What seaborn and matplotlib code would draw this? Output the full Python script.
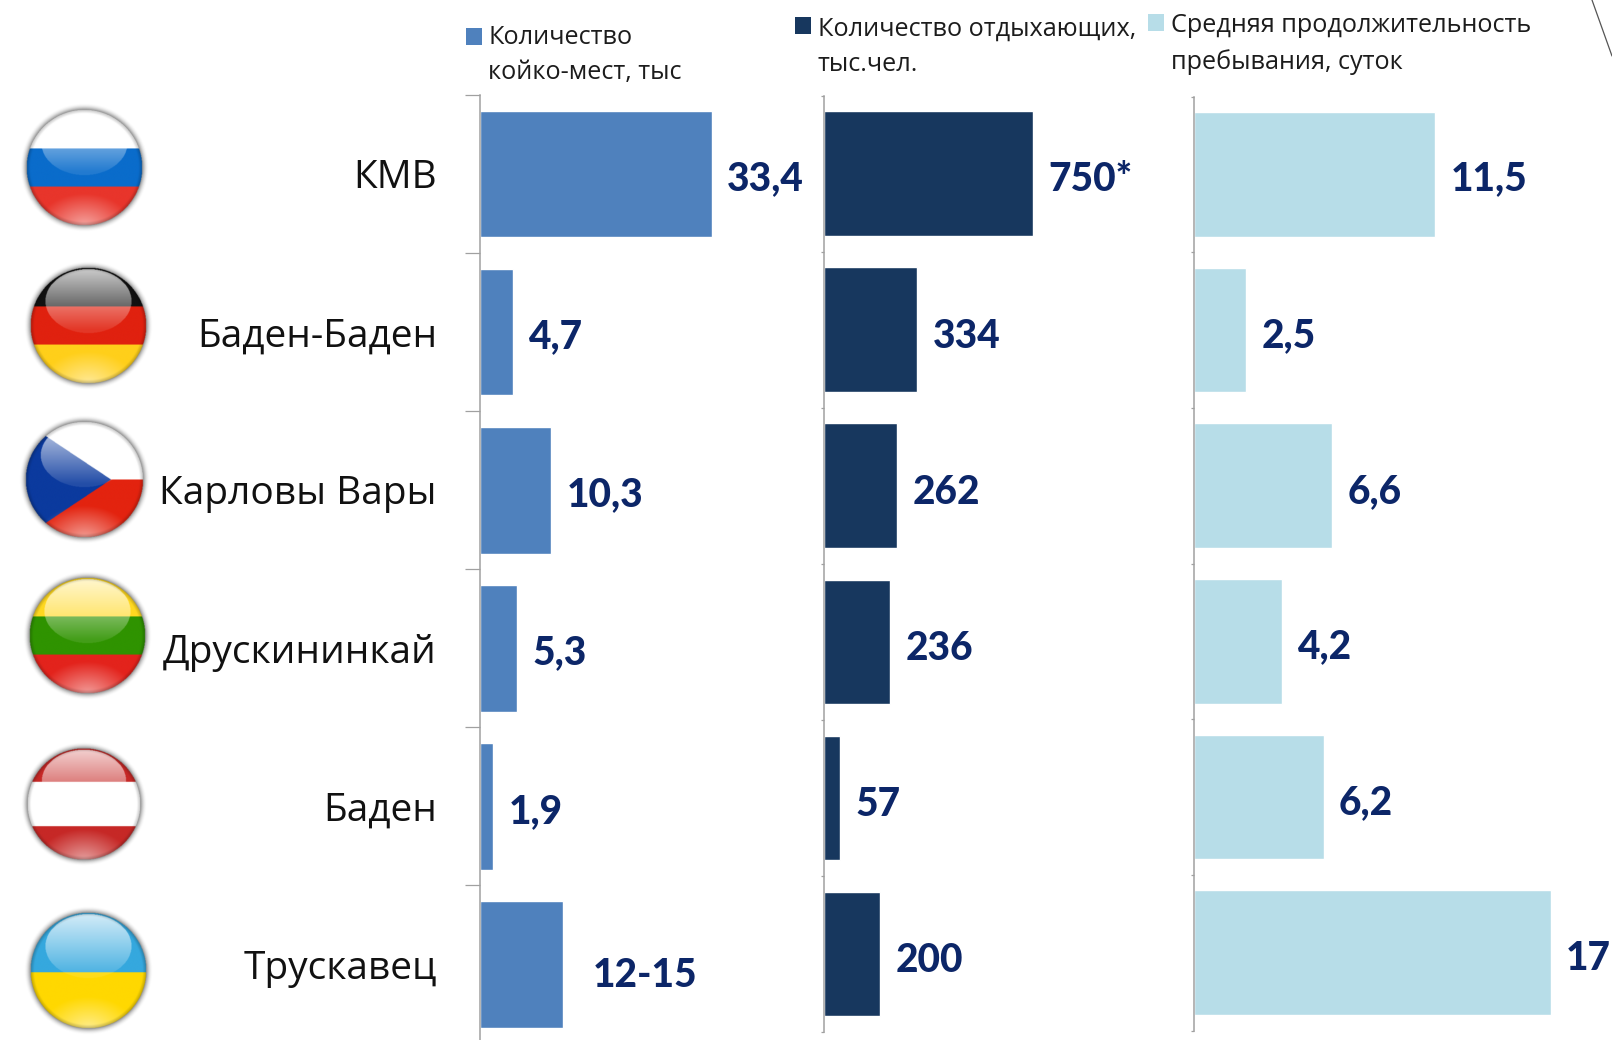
"""
Resort comparison: beds, visitors and length of stay, one bar panel per metric.
"""

import matplotlib
matplotlib.use("Agg")

import matplotlib.pyplot as plt
import numpy as np
import seaborn as sns
from matplotlib.patches import Rectangle

W, H = 1612, 1040

RESORTS = ["КМВ", "Баден-Баден", "Карловы Вары", "Друскининкай", "Баден", "Трускавец"]

BEDS = [33.4, 4.7, 10.3, 5.3, 1.9, 12.0]
BEDS_LABELS = ["33,4", "4,7", "10,3", "5,3", "1,9", "12-15"]
VISITORS = [750, 334, 262, 236, 57, 200]
VISITORS_LABELS = ["750*", "334", "262", "236", "57", "200"]
STAY = [11.5, 2.5, 6.6, 4.2, 6.2, 17]
STAY_LABELS = ["11,5", "2,5", "6,6", "4,2", "6,2", "17"]

LEGEND_BEDS = "Количество\nкойко-мест, тыс"
LEGEND_VISITORS = "Количество отдыхающих,\nтыс.чел."
LEGEND_STAY = "Средняя продолжительность\nпребывания, суток"

BLUE = "#4F81BD"
NAVY = "#17375E"
PALE = "#B7DDE8"
LABEL = "#0C2668"
AXIS = "#A0A0A0"

TEXT_FONT = ["Open Sans", "DejaVu Sans"]
VALUE_FONT = ["Lato", "Open Sans", "DejaVu Sans"]

sns.set_style("white")
plt.rcParams["font.family"] = TEXT_FONT


def px_axes(fig, left, top, right, bottom):
    return fig.add_axes([left / W, 1 - bottom / H, (right - left) / W, (bottom - top) / H])


# ---------------------------------------------------------------------------
# Glossy round flags
# ---------------------------------------------------------------------------

def flag_rgba(stripes, cuts, triangle=None, size=300):
    pad = 1.14
    yy, xx = np.mgrid[-pad:pad:size * 1j, -pad:pad:size * 1j]
    r = np.hypot(xx, yy)

    img = np.zeros((size, size, 3))
    idx = np.digitize(yy, cuts)
    for i, c in enumerate(stripes):
        img[idx == i] = matplotlib.colors.to_rgb(c)
    if triangle:
        mask = xx + 1 < (0.45 + 1) * (1 - np.abs(yy) / 0.98)
        img[mask] = matplotlib.colors.to_rgb(triangle)

    # top gloss
    gloss = ((xx / 0.74) ** 2 + ((yy + 0.42) / 0.55) ** 2) < 1
    a = np.clip(0.78 - 0.62 * (yy + 0.97) / 0.95, 0.1, 0.8)[..., None]
    img = np.where(gloss[..., None], img * (1 - a) + a, img)

    # bottom glow
    glow = np.clip(0.55 - np.hypot(xx / 0.8, (yy - 1.0) / 0.55) * 0.55, 0, 1)[..., None]
    img = img * (1 - glow) + glow

    # darker rim
    rim = np.clip((r - 0.93) / 0.07, 0, 1)[..., None] * 0.25
    img = img * (1 - rim)

    # soft drop shadow, no hard ring
    fade = np.clip((1.11 - r) / 0.11, 0, 1) ** 2
    alpha = np.where(r <= 0.995, 1.0, fade * 0.6)
    img[r > 0.995] = 0.35
    return np.dstack([img, alpha])


def draw_flags(fig):
    ax = fig.add_axes([0, 0, 1, 1], zorder=0)
    ax.set_xlim(0, W)
    ax.set_ylim(H, 0)
    ax.axis("off")

    flags = [
        (84, 168, 58, 58, ["#FFFFFF", "#0A6CCB", "#E8352B"], [-0.33, 0.33], None),
        (88, 326, 58, 58, ["#111111", "#E0210F", "#FFCF1A"], [-0.33, 0.33], None),
        (84, 480, 59, 58, ["#FFFFFF", "#E3230F"], [0.0], "#0B3A9E"),
        (87, 636, 58, 58, ["#FFD820", "#2F9300", "#E3231C"], [-0.33, 0.33], None),
        (84, 804, 57, 56, ["#C62826", "#FFFFFF", "#C62826"], [-0.4, 0.4], None),
        (88, 971, 58, 58, ["#35A8DE", "#FFD800"], [0.03], None),
    ]
    for cx, cy, rx, ry, stripes, cuts, tri in flags:
        rx_p, ry_p = rx * 1.14, ry * 1.14
        ax.imshow(flag_rgba(stripes, cuts, tri), aspect="auto", interpolation="bilinear",
                  extent=(cx - rx_p, cx + rx_p, cy + ry_p, cy - ry_p))
    ax.set_xlim(0, W)
    ax.set_ylim(H, 0)

    # stray slide-corner line, top right
    ax.plot([1592, 1612], [0, 56], color="#555555", lw=0.9)


# ---------------------------------------------------------------------------
# Bar panels
# ---------------------------------------------------------------------------

def bar_panel(ax, values, labels, color, xmax, pads, drops, tick_len=2):
    sns.barplot(x=values, y=RESORTS, color=color, saturation=1, width=0.8, ax=ax)
    ax.set_xlim(0, xmax)
    ax.set_ylim(5.5, -0.5)
    ax.patch.set_alpha(0)

    sns.despine(ax=ax, top=True, right=True, bottom=True, left=False)
    ax.spines["left"].set_color(AXIS)
    ax.spines["left"].set_linewidth(1.1)
    ax.set_xticks([])
    ax.set_xlabel("")
    ax.set_ylabel("")
    ax.set_yticks(np.arange(-0.5, 6.5), labels=[""] * 7)
    ax.tick_params(axis="y", left=True, length=tick_len, width=0.9, color=AXIS)

    for i, (v, lab, pad, drop) in enumerate(zip(values, labels, pads, drops)):
        ax.annotate(lab, xy=(v, i), xytext=(pad, -drop), textcoords="offset points",
                    ha="left", va="center", fontsize=28, fontweight=900,
                    color=LABEL, family=VALUE_FONT)


def main():
    fig = plt.figure(figsize=(W / 100, H / 100), dpi=100, facecolor="white")
    draw_flags(fig)

    ax1 = px_axes(fig, 480, 95.2, 827, 1043.5)
    ax2 = px_axes(fig, 824.5, 95.8, 1102.5, 1032)
    ax3 = px_axes(fig, 1193.6, 96.5, 1613.6, 1030.5)

    bar_panel(ax1, BEDS, BEDS_LABELS, BLUE, 50, [11, 11, 11, 11, 11, 21],
              [3, 3, 3, 3, 3.5, 8], tick_len=11)
    bar_panel(ax2, VISITORS, VISITORS_LABELS, NAVY, 1000, [11] * 6, [4, 4.5, 4.5, 4.5, 4.5, 4.5])
    bar_panel(ax3, STAY, STAY_LABELS, PALE, 20, [11] * 6, [3, 4, 4, 4, 4, 4])

    # resort names sit right-aligned left of the first axis
    for i, name in enumerate(RESORTS):
        ax1.annotate(name, xy=(0, i), xycoords=("data", "data"), xytext=(-31, -3),
                     textcoords="offset points", ha="right", va="center",
                     fontsize=28, color="#111111")

    # legends, one per panel
    for sq_x, sq_y, tx, ty, color, text in [
        (466, 28, 488, 55, BLUE, LEGEND_BEDS),
        (795, 17, 818, 46.5, NAVY, LEGEND_VISITORS),
        (1148, 14, 1171, 44, PALE, LEGEND_STAY),
    ]:
        fig.add_artist(Rectangle((sq_x / W, 1 - (sq_y + 17) / H), 16 / W, 17 / H,
                                 transform=fig.transFigure, facecolor=color, edgecolor="none"))
        fig.text(tx / W, 1 - ty / H, text, ha="left", va="center", fontsize=18.2,
                 color="#1C1C1C", linespacing=1.55)

    fig.savefig("out.png", dpi=100, facecolor="white")
    plt.close(fig)


if __name__ == "__main__":
    main()
